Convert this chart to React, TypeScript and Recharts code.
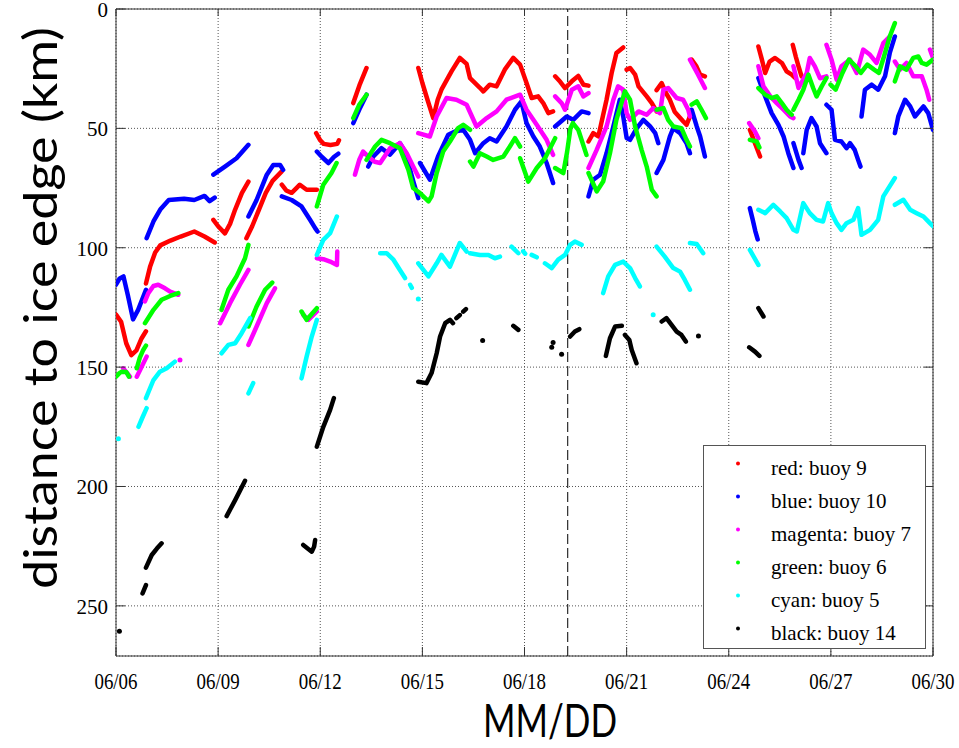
import {
  ComposedChart,
  Line,
  Scatter,
  XAxis,
  YAxis,
  CartesianGrid,
  ReferenceLine,
  ReferenceArea,
} from 'recharts'

// days since 06/06, distance to ice edge in km
type Pt = [number, number]

const xTicks = [0, 3, 6, 9, 12, 15, 18, 21, 24]
const yTicks = [0, 50, 100, 150, 200, 250]
const dashedDay = 13.27

const redSegments: Pt[][] = [
  [[0, 128], [0.15, 131], [0.3, 140], [0.45, 145], [0.6, 143], [0.75, 138], [0.88, 135]],
  [[0.88, 115], [1.0, 108], [1.15, 102], [1.3, 99], [1.6, 97], [1.9, 95.3], [2.3, 93.2], [2.6, 95.3], [2.9, 97.8]],
  [[2.86, 88.3], [3.0, 91], [3.2, 94], [3.35, 90], [3.5, 84], [3.7, 77], [3.89, 72.3]],
  [[3.83, 96], [4.0, 91], [4.2, 84], [4.4, 77], [4.6, 72], [4.87, 68]],
  [[4.87, 73.6], [5.0, 76], [5.16, 77], [5.3, 75], [5.4, 73.6], [5.6, 75.7], [5.9, 75.7]],
  [[5.88, 52], [6.0, 55], [6.1, 56.5], [6.3, 57], [6.5, 56.5], [6.55, 55]],
  [[6.97, 39.4], [7.15, 32], [7.36, 24.7]],
  [[8.88, 24.7], [9.0, 31], [9.15, 38], [9.32, 45.7], [9.45, 38], [9.56, 33.8], [9.86, 26], [10.1, 20.5], [10.3, 23], [10.4, 29], [10.69, 33], [10.79, 34.5], [10.98, 31.7], [11.18, 32.4], [11.42, 25.4], [11.67, 20.5], [11.87, 23.3], [12.06, 31], [12.21, 37.3], [12.4, 36.6], [12.55, 39.4], [12.7, 43.6], [12.84, 42.9]],
  [[12.9, 28.2], [13.05, 30.5], [13.19, 33.1], [13.39, 30.3], [13.58, 28], [13.73, 31.7], [13.88, 32.1]],
  [[13.88, 55.5], [14.02, 52], [14.17, 53.4], [14.3, 45], [14.41, 38], [14.56, 26.8], [14.7, 18.4], [14.9, 16.1]],
  [[15.0, 25.4], [15.1, 24.7], [15.25, 27.5], [15.35, 32.4], [15.59, 36.6], [15.74, 39.4], [15.88, 42.9]],
  [[15.88, 34], [16.03, 31], [16.15, 35], [16.27, 38], [16.41, 43], [16.66, 47], [16.76, 48.5], [16.86, 45]],
  [[16.91, 21.2], [17.05, 24], [17.16, 27.5], [17.3, 28.2]],
  [[18.62, 50.6], [18.77, 56.2], [18.92, 61.8]],
  [[18.87, 15.7], [18.97, 21], [19.07, 26.8], [19.2, 22], [19.36, 20.5], [19.56, 22.6], [19.7, 26.1], [19.85, 27.5], [19.95, 28.9]],
  [[19.88, 15], [19.97, 20], [20.05, 24], [20.14, 28.2]],
]
const redDots: Pt[] = []

const blueSegments: Pt[][] = [
  [[0, 115.5], [0.1, 113], [0.22, 112], [0.35, 120], [0.5, 130], [0.65, 126], [0.88, 117.6]],
  [[0.9, 96], [1.1, 89], [1.3, 84], [1.55, 80], [2.0, 79.5], [2.3, 80], [2.6, 78.3], [2.75, 80.5], [2.9, 79]],
  [[2.86, 69.4], [3.2, 66], [3.54, 62.5], [3.89, 56.9]],
  [[3.89, 86.9], [4.13, 80], [4.43, 69.4], [4.62, 65.3], [4.82, 65.3], [4.91, 67.4]],
  [[4.87, 78.5], [5.16, 80], [5.45, 82.7], [5.7, 88.3], [5.85, 91.8], [5.92, 93.2]],
  [[5.9, 59.7], [6.05, 62], [6.24, 64.5], [6.4, 62], [6.53, 60.6]],
  [[6.97, 47.8], [7.15, 42], [7.36, 35.9]],
  [[7.41, 66], [7.56, 61.8], [7.8, 58.3], [8.05, 61], [8.34, 56.2], [8.5, 60], [8.64, 67.4], [8.75, 73], [8.88, 79.2]],
  [[8.93, 64.5], [9.22, 71.5], [9.46, 61.8], [9.76, 52.7], [9.96, 51.3], [10.2, 50.6], [10.4, 54.8], [10.55, 60.4], [10.79, 56.2], [10.98, 54.1], [11.18, 55.5], [11.47, 49.2], [11.72, 42.2], [11.91, 38.7], [12.06, 47.8], [12.26, 53.4], [12.45, 57.6], [12.65, 64.5], [12.84, 72.9]],
  [[12.9, 49.2], [13.24, 45], [13.43, 46.4], [13.68, 42.9], [13.88, 43.6]],
  [[13.88, 78.5], [14.02, 71.5], [14.22, 69.4], [14.41, 60.4], [14.61, 49.2], [14.8, 38], [14.9, 45], [15.0, 54], [15.1, 54.8], [15.3, 49.9], [15.49, 46.4], [15.69, 49.2], [15.84, 52], [15.93, 56.2]],
  [[15.88, 68.7], [16.08, 63.2], [16.27, 53.4], [16.37, 49.9], [16.57, 52], [16.76, 56.2], [16.86, 60.4]],
  [[16.91, 42.2], [17.06, 49.2], [17.16, 53.4], [17.3, 61.8]],
  [[18.62, 83.4], [18.7, 88], [18.78, 93], [18.85, 96.5]],
  [[18.87, 28.9], [19.07, 36.6], [19.26, 43.6], [19.46, 48.5], [19.61, 53.4], [19.75, 60.4], [19.9, 66.6]],
  [[19.9, 56.2], [20.05, 63.2], [20.14, 66.6]],
  [[20.19, 60.4], [20.29, 50.6], [20.43, 45.7], [20.58, 49.2], [20.68, 56.2], [20.87, 60.4]],
  [[20.87, 40.1], [21.02, 42.2], [21.12, 54.8], [21.31, 55.5], [21.46, 58.3], [21.56, 56.2], [21.7, 59], [21.8, 63.2], [21.87, 66]],
  [[21.9, 45], [22.0, 33.8], [22.2, 31.7], [22.39, 33.8], [22.59, 28.2], [22.73, 18.4], [22.88, 11.5]],
  [[22.88, 52], [22.98, 45], [23.18, 38], [23.33, 40.8], [23.47, 45], [23.72, 40.8], [23.86, 43.6], [24.0, 50.6]],
]
const blueDots: Pt[] = []

const magentaSegments: Pt[][] = [
  [[0.21, 150.5], [0.3, 152], [0.41, 154]],
  [[0.61, 154], [0.75, 150], [0.9, 145.6]],
  [[0.85, 122.5], [0.95, 119], [1.1, 116], [1.24, 115.5], [1.44, 117], [1.59, 118.4], [1.83, 119.7]],
  [[3.06, 131.6], [3.35, 123.2], [3.64, 115.5], [3.89, 109.3]],
  [[3.89, 140.7], [4.13, 133], [4.43, 123.2], [4.67, 117]],
  [[5.5, 128.1], [5.65, 130.2], [5.9, 126.7]],
  [[5.9, 104.4], [6.09, 104.8], [6.29, 105.8], [6.49, 107.2], [6.5, 101.6]],
  [[7.02, 69.4], [7.15, 63], [7.26, 59.7], [7.41, 61.8], [7.6, 64], [7.76, 64.5], [8.05, 58.3], [8.34, 56.2], [8.54, 60.4], [8.73, 66], [8.88, 70.2]],
  [[8.88, 52], [9.22, 53.4], [9.42, 45], [9.71, 37.3], [10.0, 38], [10.3, 40.1], [10.59, 49.2], [10.89, 45.7], [11.18, 42.9], [11.47, 38], [11.87, 35.9], [12.06, 42.2], [12.36, 48.5], [12.65, 54.8], [12.84, 61.1]],
  [[12.9, 36.6], [13.09, 39.4], [13.19, 42.2], [13.39, 33.8], [13.58, 32.4], [13.73, 36.6], [13.88, 35.2]],
  [[13.88, 66.6], [14.12, 59], [14.41, 49.2], [14.61, 38], [14.75, 32.4], [14.9, 33.8], [15.0, 43.6], [15.1, 46.4], [15.35, 42.9], [15.59, 44.3], [15.78, 41.5], [15.98, 43.6], [16.08, 33.8], [16.22, 33.1], [16.47, 37.3], [16.66, 38], [16.81, 42.2], [16.86, 45]],
  [[16.86, 21.2], [17.1, 27.5], [17.3, 33.1]],
  [[18.6, 47.8], [18.77, 51.3], [18.87, 54.1]],
  [[18.87, 24], [19.02, 32.4], [19.22, 36.6], [19.41, 39.4], [19.61, 42.2], [19.8, 45], [19.9, 45.7]],
  [[19.9, 24], [20.05, 33.1], [20.29, 26.8], [20.38, 20.5], [20.53, 24], [20.68, 29], [20.87, 28.2]],
  [[20.87, 15], [21.02, 21.2], [21.17, 29.6], [21.31, 24], [21.56, 21.2], [21.76, 26.8], [21.95, 17], [22.15, 19.2], [22.34, 22.6], [22.54, 14.3], [22.73, 11.5]],
  [[22.88, 22], [23.03, 25.4], [23.22, 22.6], [23.42, 28.2], [23.67, 28.2], [23.81, 33.8], [23.89, 38]],
  [[23.91, 17], [24.0, 20.5]],
]
const magentaDots: Pt[] = [[1.88, 147]]

const greenSegments: Pt[][] = [
  [[0, 154], [0.1, 152.5], [0.17, 151.9], [0.3, 152], [0.38, 154]],
  [[0.61, 150.5], [0.7, 146], [0.8, 142.8], [0.88, 141]],
  [[0.85, 131.6], [1.1, 126], [1.34, 121.8], [1.59, 120.2], [1.83, 119]],
  [[3.1, 126], [3.3, 117.6], [3.54, 112], [3.79, 104.4], [3.89, 98.8]],
  [[3.89, 133], [4.13, 124.6], [4.38, 117.6], [4.59, 114.6]],
  [[5.45, 126.7], [5.6, 130.2], [5.9, 125.3]],
  [[5.9, 82.7], [6.09, 73.6], [6.33, 68.7], [6.48, 64.5]],
  [[6.97, 45.7], [7.15, 40], [7.36, 35.9]],
  [[7.36, 63.2], [7.61, 57.6], [7.8, 54.8], [8.05, 56.2], [8.34, 58.3], [8.59, 67.4], [8.73, 75], [8.93, 77.1], [9.18, 80.6], [9.27, 78.5], [9.42, 68.7], [9.61, 59.7], [9.81, 55.5], [10.05, 49.9], [10.2, 48.5], [10.4, 50.6]],
  [[10.4, 63.9], [10.5, 66], [10.69, 60.4], [10.89, 61.8], [11.08, 63.2], [11.38, 61.8], [11.57, 57.6], [11.72, 54.1], [11.87, 57.6]],
  [[11.87, 62.5], [12.11, 72.3], [12.36, 66.6], [12.6, 62.5], [12.9, 54.1]],
  [[12.9, 66.6], [13.14, 68.7], [13.25, 60], [13.35, 50], [13.42, 47.8], [13.58, 50.6], [13.82, 61.1]],
  [[13.88, 68.7], [14.12, 76.4], [14.31, 72.3], [14.51, 60.4], [14.7, 46.4], [14.95, 34.5], [15.1, 38], [15.25, 49.2], [15.44, 59], [15.59, 66], [15.74, 75.7], [15.88, 78.5]],
  [[15.88, 42.2], [16.08, 41.5], [16.22, 46.4], [16.37, 49.2], [16.61, 49.9], [16.76, 54.8], [16.86, 57.6]],
  [[16.91, 40.1], [17.06, 38.7], [17.2, 42.2], [17.33, 45.7]],
  [[18.62, 54.8], [18.82, 55.5], [18.9, 58]],
  [[18.87, 33.1], [19.07, 35.9], [19.26, 37.3], [19.41, 36.6], [19.56, 39.4], [19.7, 42.2], [19.85, 44.3]],
  [[19.9, 42.2], [20.05, 38], [20.19, 33.8], [20.34, 27.5], [20.48, 33.1], [20.58, 36.6], [20.73, 32.4], [20.87, 28.9]],
  [[20.99, 31.7], [21.14, 33.8], [21.34, 26.8], [21.53, 21.2], [21.73, 24], [21.88, 26.8], [22.07, 23.3], [22.27, 25.4], [22.41, 26.8], [22.56, 19.9], [22.73, 11.5], [22.88, 5.9]],
  [[22.88, 30.3], [23.03, 24], [23.22, 25.4], [23.42, 20.5], [23.57, 19.9], [23.67, 22.6], [23.81, 23.3], [24.0, 21.2]],
]
const greenDots: Pt[] = []

const cyanSegments: Pt[][] = [
  [[0.66, 175], [0.78, 171], [0.9, 167.2]],
  [[0.88, 163], [1.1, 155.4], [1.29, 151.9], [1.49, 150.5], [1.73, 147.7]],
  [[3.1, 144.2], [3.3, 140.7], [3.5, 140], [3.69, 135.8], [3.94, 129.5]],
  [[3.89, 161], [4.03, 156.7]],
  [[5.45, 154.7], [5.6, 145.6], [5.75, 137.2], [5.9, 130.2]],
  [[5.9, 103], [6.09, 96.7], [6.29, 93.9], [6.49, 86.9]],
  [[7.76, 102.3], [7.95, 102.3], [8.15, 105], [8.34, 109.3], [8.49, 112.7]],
  [[8.64, 115.5], [8.69, 116.8]],
  [[8.88, 106.5], [9.18, 112], [9.42, 106.5], [9.56, 103], [9.81, 107.9], [10.1, 98], [10.3, 101.6]],
  [[10.4, 102.3], [10.69, 103], [10.94, 103], [11.13, 104.4], [11.28, 103.7]],
  [[11.62, 99.5], [11.82, 102.3]],
  [[11.96, 101.5], [12.02, 102.5]],
  [[12.21, 103], [12.36, 104]],
  [[12.6, 106.5], [12.8, 108.5], [12.99, 105], [13.19, 103], [13.34, 98.8], [13.48, 97.4], [13.68, 98.8]],
  [[14.31, 119], [14.46, 112], [14.66, 107.2], [14.9, 105.8], [15.1, 108.5], [15.25, 112.7], [15.39, 116.2]],
  [[15.88, 99.5], [16.12, 103.7], [16.37, 108.5], [16.57, 110], [16.71, 113.5], [16.86, 117.6]],
  [[16.86, 98], [17.06, 98.4], [17.25, 102.3]],
  [[18.62, 100.9], [18.87, 107.2]],
  [[18.87, 84.1], [19.07, 85.5], [19.31, 82], [19.51, 84.8], [19.7, 87.6], [19.9, 92.5], [20.0, 93.2], [20.19, 81.3], [20.38, 85.5], [20.58, 88.3], [20.77, 89], [20.92, 81.3], [21.02, 85.5], [21.17, 89.7], [21.31, 92.5], [21.46, 89.7], [21.66, 88.3], [21.8, 83.4], [21.9, 94.6], [22.15, 92.5], [22.39, 88.3], [22.54, 78.5], [22.88, 70.8]],
  [[22.88, 82], [23.13, 79.9], [23.33, 84.1], [23.52, 85.5], [23.72, 86.9], [23.91, 89.7], [24.0, 91]],
]
const cyanDots: Pt[] = [[0.07, 180], [8.88, 121.5], [15.78, 128.1]]

const blackSegments: Pt[][] = [
  [[0.78, 244.8], [0.88, 241.3]],
  [[0.88, 234], [1.05, 228.7], [1.2, 226], [1.34, 223.8]],
  [[3.25, 212.4], [3.5, 205.7], [3.79, 197.6]],
  [[5.5, 224.5], [5.75, 227.3], [5.82, 225.2], [5.85, 222.4]],
  [[5.9, 183.3], [6.09, 175], [6.29, 167.9], [6.4, 163]],
  [[8.88, 156.1], [9.12, 156.7], [9.27, 152.5], [9.42, 144.2], [9.52, 137.2], [9.67, 131.6], [9.81, 130.2], [9.9, 131.6]],
  [[10.0, 129.5], [10.1, 128.2]],
  [[10.2, 126.8], [10.28, 125.7]],
  [[11.67, 132.7], [11.82, 134.4]],
  [[13.34, 137.2], [13.48, 135.1], [13.61, 134.1]],
  [[14.39, 145.3], [14.51, 137.9], [14.66, 133], [14.86, 132.7]],
  [[14.95, 136.5], [15.08, 138.6], [15.15, 142.8], [15.29, 148.4]],
  [[16.03, 130.9], [16.17, 129.5], [16.32, 132.3], [16.47, 135.1], [16.61, 136.5], [16.74, 139.3]],
  [[18.6, 141.7], [18.77, 143.5], [18.9, 145.3]],
  [[18.87, 125.3], [19.02, 128.8]],
]
const blackDots: Pt[] = [[0.1, 260.6], [10.77, 138.9], [12.84, 139.7], [12.8, 141.7], [13.09, 144.6], [17.11, 137]]

const buoys = [
  { name: 'red: buoy 9', color: '#ff0000', segments: redSegments, dots: redDots },
  { name: 'blue: buoy 10', color: '#0000ff', segments: blueSegments, dots: blueDots },
  { name: 'magenta: buoy 7', color: '#ff00ff', segments: magentaSegments, dots: magentaDots },
  { name: 'green: buoy 6', color: '#00ff00', segments: greenSegments, dots: greenDots },
  { name: 'cyan: buoy 5', color: '#00ffff', segments: cyanSegments, dots: cyanDots },
  { name: 'black: buoy 14', color: '#000000', segments: blackSegments, dots: blackDots },
]

const W = 959
const H = 748
const PLOT_TOP = 9
const PLOT_BOTTOM = 656
const PLOT_LEFT = 116
const PLOT_RIGHT = 933
const SERIF = '"Liberation Serif", "Times New Roman", serif'
const SANS = 'Lato, "Open Sans", sans-serif'

// segments joined with a null gap so the line breaks between them
function toLineData(segs: Pt[][]) {
  const out: { day: number; km: number | null }[] = []
  segs.forEach((s, i) => {
    s.forEach(([day, km]) => out.push({ day, km }))
    if (i < segs.length - 1) out.push({ day: s[s.length - 1][0], km: null })
  })
  return out
}

function XTick(props: any) {
  const { x, payload } = props
  const label = `06/${String(6 + payload.value).padStart(2, '0')}`
  return (
    <g>
      <line x1={x} x2={x} y1={PLOT_BOTTOM} y2={PLOT_BOTTOM - 9} stroke="#333" />
      <line x1={x} x2={x} y1={PLOT_TOP} y2={PLOT_TOP + 7} stroke="#333" />
      <text
        transform={`translate(${x},${PLOT_BOTTOM + 33}) scale(0.9,1.1)`}
        textAnchor="middle"
        fontFamily={SERIF}
        fontSize={21}
        fill="#000"
      >
        {label}
      </text>
    </g>
  )
}

function YTick(props: any) {
  const { y, payload } = props
  return (
    <g>
      <line x1={PLOT_LEFT} x2={PLOT_LEFT + 9} y1={y} y2={y} stroke="#333" />
      <line x1={PLOT_RIGHT} x2={PLOT_RIGHT - 9} y1={y} y2={y} stroke="#333" />
      <text x={PLOT_LEFT - 8} y={y + 8} textAnchor="end" fontFamily={SERIF} fontSize={21} fill="#000">
        {payload.value}
      </text>
    </g>
  )
}

const xTitle = () => (
  <text x={550} y={737} textAnchor="middle" fontFamily={SANS} fontSize={46} textLength={134} lengthAdjust="spacingAndGlyphs" fill="#000">
    MM/DD
  </text>
)

const yTitle = () => (
  <text x={-308} y={57} transform="rotate(-90)" textAnchor="middle" fontFamily={SANS} fontSize={46} textLength={562} lengthAdjust="spacingAndGlyphs" fill="#000">
    distance to ice edge (km)
  </text>
)

function LegendBox() {
  const left = 703
  const top = 445
  return (
    <svg width={W} height={H} style={{ position: 'absolute', left: 0, top: 0, pointerEvents: 'none' }}>
      <rect x={left + 0.5} y={top + 0.5} width={222} height={203} fill="#fff" stroke="#555" />
      {buoys.map((b, i) => (
        <g key={b.name}>
          <circle cx={738} cy={463.5 + i * 33} r={2} fill={b.color} />
          <text x={771} y={475 + i * 32.9} fontFamily={SERIF} fontSize={21} fill="#000">
            {b.name}
          </text>
        </g>
      ))}
    </svg>
  )
}

export default function App() {
  return (
    <div style={{ position: 'absolute', left: 0, top: 0, width: W, height: H, background: '#fff' }}>
      <ComposedChart width={W} height={H} margin={{ top: PLOT_TOP, right: W - PLOT_RIGHT, bottom: 0, left: 0 }}>
        <CartesianGrid stroke="#555" strokeDasharray="1 2" />
        <XAxis
          type="number"
          dataKey="day"
          domain={[0, 24]}
          ticks={xTicks}
          interval={0}
          height={H - PLOT_BOTTOM}
          tick={<XTick />}
          tickLine={false}
          axisLine={false}
          tickSize={0}
          allowDataOverflow
          label={xTitle}
        />
        <YAxis
          type="number"
          dataKey="km"
          domain={[0, 271]}
          reversed
          ticks={yTicks}
          interval={0}
          width={PLOT_LEFT}
          tick={<YTick />}
          tickLine={false}
          axisLine={false}
          tickSize={0}
          allowDataOverflow
          label={yTitle}
        />
        <ReferenceArea x1={0} x2={24} y1={0} y2={271} fill="none" stroke="#333" strokeWidth={1} />
        <ReferenceLine x={dashedDay} stroke="#000" strokeDasharray="10 4" />
        {buoys.map(b => (
          <Line
            key={b.name}
            data={toLineData(b.segments)}
            dataKey="km"
            stroke={b.color}
            strokeWidth={4.5}
            strokeLinecap="round"
            strokeLinejoin="round"
            dot={false}
            activeDot={false}
            connectNulls={false}
            isAnimationActive={false}
          />
        ))}
        {buoys
          .filter(b => b.dots.length > 0)
          .map(b => (
            <Scatter
              key={`${b.name}-dots`}
              data={b.dots.map(([day, km]) => ({ day, km }))}
              fill={b.color}
              shape={(p: any) => <circle cx={p.cx} cy={p.cy} r={2.5} fill={b.color} />}
              isAnimationActive={false}
            />
          ))}
      </ComposedChart>
      <LegendBox />
    </div>
  )
}
